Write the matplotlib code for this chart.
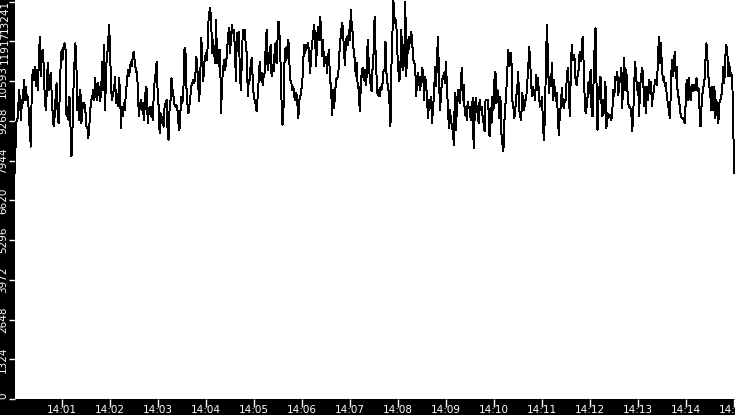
import matplotlib
matplotlib.use("Agg")
import matplotlib.pyplot as plt
import matplotlib.dates as mdates
import matplotlib.transforms as mtransforms
import numpy as np
import pandas as pd

seg1 = [7525, 9193, 9304, 9415, 10305, 9971, 9304, 9971, 9860, 10638, 9971, 10416, 9971, 10082, 9526, 8859, 8414,
        10527, 10972, 10638, 11083, 10416, 10972, 10305, 11194, 12084, 10749, 11528, 11639, 11083, 10082, 9637, 10194,
        11194, 10305, 10638, 10861, 10194, 9526, 9081, 9415, 10082, 10527, 9526, 9193, 9971, 11083, 11639, 11305, 11750,
        11861, 11639, 9415, 9749, 9304, 10082, 9081, 8081, 8970, 10305, 11194, 11861, 11083, 9637, 10082, 9304, 10305,
        9193, 9637, 9860, 9860, 9637, 9081]
seg2 = [9081, 8692, 9081, 9637, 9971, 10082, 10305, 9971, 10694, 10082, 9971, 10527, 10194, 9915, 10305, 11250, 10305,
        11806, 9637, 11083, 11417, 11861, 12473, 11639, 10305, 9971, 10194, 10305, 10749, 9860, 10082, 9749, 10694,
        10305, 9026, 9749, 9415, 9860, 9637, 10305, 10527, 10972, 10749, 10972, 11250, 11083, 11472, 11583, 11194,
        10972, 10861, 10416, 9415, 9749, 9971, 9637, 9860, 9304, 9749, 10416, 10305, 9193, 9637, 9749, 9415, 9749, 9304,
        10082, 10638, 10861, 11250, 10194, 9749, 8859, 9526, 9193, 9415, 9081, 9749, 9860, 9971, 8970]
seg3 = [8637, 9637, 9971, 10694, 10305, 10082, 9804, 9749, 9804, 9637, 9193, 8970, 9582, 10082, 9860, 10305, 11639,
        11695, 10416, 9860, 9526, 9749, 10082, 10416, 10527, 10638, 10527, 10749, 11417, 11083, 10416, 9915, 10749,
        12028, 11528, 10583, 11194, 11417, 11528, 11305, 12473, 12862, 13029, 12640, 11528, 11973, 11528, 11194, 12640,
        11194, 11639, 11083, 11639, 9526, 10527, 10972, 11305, 10972, 11194, 11528, 12084, 12362, 11528, 11973, 12473,
        12195, 12306, 11639, 10583, 12195, 11861, 12251, 10861, 10305, 11305, 12306, 12028, 12306, 11750, 11528, 10082,
        10638]
seg4 = [10638, 11194, 11361, 10638, 10082, 9971, 9804, 9582, 10082, 10638, 11250, 10638, 10861, 10472, 10749, 10861,
        11695, 12306, 10972, 11528, 11194, 11806, 10749, 11139, 10916, 11528, 11861, 11194, 11973, 12584, 12139, 11250,
        9971, 9137, 9637, 11194, 11695, 11305, 11750, 11973, 11194, 10638, 10527, 10305, 10416, 10082, 9971, 10194, 9860,
        9360, 9971, 10082, 10305, 10527, 11305, 11806, 11528, 11806, 11695, 11861, 11417, 10861, 11528, 11861, 12195,
        12473, 11973, 11083, 12084, 12417, 11973, 12751, 12306, 11417, 11973, 11083, 11305, 11417, 10861, 11417, 11639,
        10527]
seg5 = [10527, 9471, 10305, 9693, 10082, 10638, 10694, 10749, 11139, 11917, 12084, 12529, 12417, 11639, 11139, 11861,
        12084, 11806, 12306, 11973, 12973, 12417, 12195, 11472, 11361, 10749, 11194, 10360, 10416, 9582, 10360, 10916,
        11027, 10638, 10972, 10472, 10749, 11973, 11305, 10749, 10472, 10249, 11083, 11528, 12751, 11528, 10749, 10138,
        10305, 10082, 10416, 10305, 10527, 10916, 10972, 11917, 10861, 10527, 10305, 9860, 9081, 11083, 12195, 13280,
        12529, 12695, 12417, 11528, 10972, 10583, 11083, 12306, 11083, 10972, 11528, 13250, 10749, 11973, 11528, 12084,
        11861, 12251, 11861, 11305]
seg6 = [11250, 11027, 10082, 10749, 10861, 10527, 10305, 10638, 11027, 10861, 9971, 10749, 10527, 9971, 9360, 9971,
        9693, 10082, 9193, 9749, 10138, 11083, 10416, 11361, 12084, 10749, 9637, 10082, 10638, 10694, 10861, 10527,
        11250, 10416, 9749, 9026, 9637, 9360, 9081, 8915, 8470, 10194, 8970, 9637, 10305, 10082, 9860, 10527, 11027,
        9971, 10472, 9471, 9749, 9304, 9915, 9693, 9749, 9304, 9526, 10027, 8359, 9415, 10027, 9749, 9526, 9193, 9971,
        9637, 9749, 9415, 9193, 8915, 9971, 9971, 9971, 9637, 8748, 9693, 9193, 10082, 9637]
seg7 = [10638, 10916, 9860, 10305, 9971, 9360, 10082, 8859, 8525, 8248, 9248, 9749, 10305, 10972, 11639, 11083, 11305,
        11528, 9971, 9749, 9360, 9637, 10082, 10360, 10916, 9637, 9415, 9304, 10194, 9971, 9637, 9971, 9971, 10527,
        10916, 11750, 11305, 10527, 10082, 10416, 10194, 9971, 10805, 10305, 10694, 10082, 9749, 9804, 10082, 9081,
        8637, 9526, 11305, 12473, 11305, 10194, 10749, 10416, 11194, 9971, 10638, 10305, 9915, 10194, 9415, 8803, 9526,
        9749, 10360, 9860, 9693, 9971, 9971, 10749, 11027, 10416, 9415, 10749, 11806, 11305]
seg8 = [11472, 11305, 10527, 10472, 10805, 10972, 11583, 11250, 11639, 12084, 11194, 10082, 9526, 9749, 10082, 10583,
        10194, 10972, 9637, 9415, 10527, 11639, 12362, 10527, 8970, 9971, 10416, 10749, 9860, 9415, 9971, 9526, 10583,
        9026, 9526, 9360, 9471, 9415, 9304, 9637, 10305, 10082, 10749, 10638, 10916, 10138, 10527, 10638, 11027, 9693,
        10749, 11361, 10305, 10972, 10416, 9860, 9749, 9693, 9637, 8915, 9415, 10416, 11250, 10749, 10305, 10527, 9415,
        10416, 10749, 11027, 10861, 9749, 10416, 9526, 10416, 9971, 10638, 10194, 10583, 9749, 10194]
seg9 = [10249, 10638, 10527, 10472, 11305, 12084, 11194, 11861, 11083, 10638, 10749, 10416, 10527, 10082, 9860, 9637,
        9360, 10194, 11305, 10749, 11083, 11583, 10694, 11083, 10082, 10082, 9749, 9471, 9360, 9360, 9304, 9193, 9860,
        10638, 9971, 10694, 10194, 9971, 10472, 10249, 10472, 10305, 10416, 10694, 10249, 10360, 9637, 9081, 9749,
        10194, 10416, 10638, 11305, 11861, 11305, 10749, 10416, 10082, 9637, 10416, 9637, 10416, 9360, 9971, 9526, 9193,
        9860, 9971, 10082, 10416, 11083, 10527, 11417, 11806, 11639, 10749, 11194, 10749, 10861, 10749, 9137, 7525]

values = seg1 + seg2 + seg3 + seg4 + seg5 + seg6 + seg7 + seg8 + seg9
ytick_vals = [0, 1324, 2648, 3972, 5296, 6620, 7944, 9268, 10593, 11917, 13241]
xtick_labels = ["14:01", "14:02", "14:03", "14:04", "14:05", "14:06", "14:07", "14:08",
                "14:09", "14:10", "14:11", "14:12", "14:13", "14:14", "14:15"]

t_start = pd.Timestamp("2024-01-01 14:00:01")
t_end = pd.Timestamp("2024-01-01 14:15:00")
times = pd.date_range(t_start, t_end, periods=len(values))
xticks = [pd.Timestamp("2024-01-01 " + s) for s in xtick_labels]

W, H = 735, 415
fig = plt.figure(figsize=(W / 100, H / 100), dpi=100, facecolor="black")
ax = fig.add_axes([15 / W, 16 / H, 720 / W, 399 / H])
ax.set_facecolor("white")
ax.plot(times, values, color="black", lw=0.7, antialiased=False)

ax.set_ylim(0, 13300)
ax.set_xlim(t_start, pd.Timestamp("2024-01-01 14:15:01"))
ax.set_yticks(ytick_vals)
# the two top labels are drawn separately (shifted so they do not overlap)
lab_strs = [str(v) for v in ytick_vals]
ylabels = ax.set_yticklabels(lab_strs[:-2] + ["", ""], rotation=90, va="center",
                             color="white", fontsize=7.5)
ylabels[0].set_va("bottom")
ytrans = ax.get_yaxis_transform()
ax.text(0, ytick_vals[-1], lab_strs[-1], rotation=90, ha="right", va="top",
        color="white", fontsize=7.5, clip_on=False,
        transform=mtransforms.offset_copy(ytrans, fig, x=-5, y=2, units="dots"))
ax.text(0, ytick_vals[-2], lab_strs[-2], rotation=90, ha="right", va="center",
        color="white", fontsize=7.5, clip_on=False,
        transform=mtransforms.offset_copy(ytrans, fig, x=-5, y=-6, units="dots"))
ax.set_xticks(mdates.date2num(xticks))
ax.set_xticklabels(xtick_labels, color="white", fontsize=7.5)
ax.tick_params(axis="y", colors="white", length=4, width=1, pad=1, direction="out")
ax.tick_params(axis="x", colors="white", length=6, width=1, pad=-1.5, direction="out")
for s in ax.spines.values():
    s.set_visible(False)

fig.savefig("out.png", dpi=100, facecolor="black")
